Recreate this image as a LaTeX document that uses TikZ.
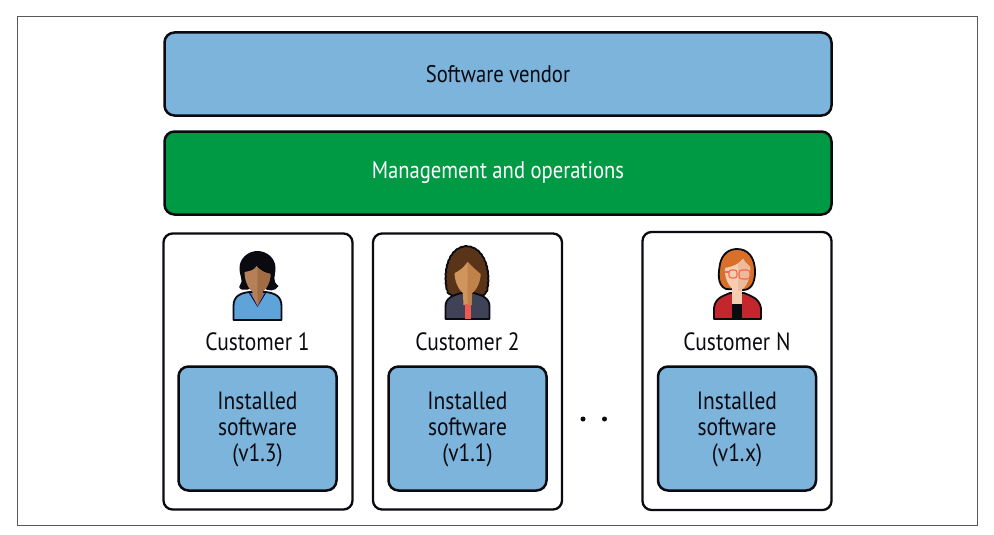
\documentclass[tikz,border=0pt]{standalone}
\usepackage{fontspec}
\usetikzlibrary{decorations.pathmorphing}
\setmainfont{PT Sans}[FakeStretch=0.86]
\definecolor{vblue}{HTML}{7DB4DC}
\definecolor{vgreen}{HTML}{009A44}
\definecolor{ink}{HTML}{0A0A10}
\definecolor{shirtb}{HTML}{5FA4D8}
\definecolor{skinone}{HTML}{B58058}
\definecolor{skinoned}{HTML}{A06C44}
\definecolor{hairtwo}{HTML}{5A3418}
\definecolor{skintwo}{HTML}{D0955C}
\definecolor{skintwod}{HTML}{BF8248}
\definecolor{jacket}{HTML}{3F4358}
\definecolor{tie}{HTML}{EE5A50}
\definecolor{hairthree}{HTML}{D9702A}
\definecolor{skinthree}{HTML}{F6CDB0}
\definecolor{skinthreed}{HTML}{EDBB9A}
\definecolor{coat}{HTML}{C4262E}
\definecolor{glass}{HTML}{EE6A50}
\tikzset{
  x=1pt,y=-1pt,
  bar/.style={draw=ink,line width=2.5pt,rounded corners=10pt,inner sep=0pt},
  card/.style={draw=ink,line width=2.3pt,fill=white,rounded corners=9pt},
  inst/.style={draw=ink,line width=2.5pt,fill=vblue,rounded corners=10pt},
  lab/.style={font=\fontsize{24}{26}\selectfont,text=ink,align=center,inner sep=0pt},
  clab/.style={font=\fontsize{25}{26}\selectfont,text=ink,align=center,inner sep=0pt},
  dotm/.style={circle,fill=ink,minimum size=5pt,inner sep=0pt},
  outl/.style={draw=ink,line width=1.8pt,line join=round}
}
\newcommand{\faceone}{(-13,272) .. controls (-7,271) and (-3,270) .. (-1,266) .. controls (3,271) and (8,273) .. (13,274) .. controls (13,284) and (6,294) .. (0,294) .. controls (-6,294) and (-13,284) .. (-13,272) -- cycle}
\newcommand{\facetwo}{(-13,273) .. controls (-6,270) and (-3,266) .. (0,262) .. controls (5,267) and (9,271) .. (13,274) .. controls (13,284) and (6,295) .. (0,295) .. controls (-6,295) and (-13,284) .. (-13,273) -- cycle}
\newcommand{\facethree}{(-12,268) .. controls (-5,267) and (2,264) .. (6,259) .. controls (9,263) and (11,265) .. (13,267) .. controls (14,280) and (7,291) .. (1,291) .. controls (-6,291) and (-13,280) .. (-12,268) -- cycle}
\begin{document}
\begin{tikzpicture}
\useasboundingbox (0,0) rectangle (994,535);
\fill[white] (0,0) rectangle (994,535);
\node[draw=black!65,line width=.9pt,minimum width=960pt,minimum height=508.5pt,inner sep=0pt] (frame) at (497.5,271.2) {};
\node[bar,fill=vblue,minimum width=667pt,minimum height=83pt] (vendor) at (498,74) {};
\node[lab] at (vendor) {Software vendor};
\node[bar,fill=vgreen,minimum width=667pt,minimum height=83pt] (mgmt) at (498,173) {};
\node[lab,text=white] at (mgmt) {Management and operations};
\node[card,minimum width=189pt,minimum height=276pt] (c1) at (258,371.5) {};
\node[card,minimum width=189pt,minimum height=276pt] (c2) at (467.5,371.5) {};
\node[card,minimum width=189pt,minimum height=278pt] (c3) at (737,371) {};
\node[inst,minimum width=158pt,minimum height=124pt] (s1) at (257.5,428.5) {};
\node[inst,minimum width=158pt,minimum height=124pt] (s2) at (467.5,428.5) {};
\node[inst,minimum width=158pt,minimum height=124pt] (s3) at (737,428.5) {};
\node[clab] (t1) at (257.5,341.5) {Customer 1};
\node[clab] (t2) at (467.5,341.5) {Customer 2};
\node[clab] (t3) at (737,341.5) {Customer N};
\node[clab] (u1) at (257.5,429) {Installed\\software\\(v1.3)};
\node[clab] (u2) at (467.5,429) {Installed\\software\\(v1.1)};
\node[clab] (u3) at (737,429) {Installed\\software\\(v1.x)};
\node[dotm] (d1) at (583,419) {};
\node[dotm] (d2) at (604.5,419) {};
% person 1
\begin{scope}[shift={(257.5,0)}]
\fill[ink] (-17,284) .. controls (-14,281) and (-18,276) .. (-18,268) .. controls (-18,258) and (-9,251) .. (0,251) .. controls (9,251) and (18,258) .. (18,268) .. controls (18,276) and (14,281) .. (21,286) .. controls (18,292) and (10,291) .. (6,288) -- (-6,288) .. controls (-10,291) and (-22,291) .. (-17,284) -- cycle;
\draw[outl,fill=shirtb] (-24,320) -- (-24,306) .. controls (-24,296) and (-17,293) .. (-8,292) -- (8,292) .. controls (17,293) and (24,296) .. (24,306) -- (24,320) -- cycle;
\draw[ink!70!blue,line width=1pt,fill=shirtb!80!black] (-8,293) -- (0,306) -- (8,293);
\fill[skinone] (-5,285) -- (5,285) -- (5,296) -- (0,306) -- (-5,296) -- cycle;
\fill[skinone] \faceone;
\begin{scope}
\clip (0,250) rectangle (30,310);
\fill[skinoned] \faceone;
\fill[skinoned] (-5,285) -- (5,285) -- (5,296) -- (0,306) -- (-5,296) -- cycle;
\end{scope}
\end{scope}
% person 2
\begin{scope}[shift={(467.5,0)}]
\draw[outl,fill=hairtwo,decorate,decoration={bumps,segment length=9pt,amplitude=.9pt}] (-20,290) .. controls (-24,270) and (-18,248) .. (-1,247) .. controls (16,248) and (23,270) .. (19,290) .. controls (16,296) and (10,296) .. (6,294) -- (-6,294) .. controls (-10,296) and (-17,296) .. (-20,290) -- cycle;
\draw[outl,fill=jacket] (-22,319) -- (-22,306) .. controls (-22,298) and (-14,295) .. (-6,293) -- (6,293) .. controls (14,295) and (22,298) .. (22,306) -- (22,319) -- cycle;
\fill[skintwo] (-5,285) -- (5,285) -- (4,305) -- (-4,305) -- cycle;
\fill[tie] (-3,304) rectangle (3,319);
\fill[skintwo] \facetwo;
\begin{scope}
\clip (0,250) rectangle (30,310);
\fill[skintwod] \facetwo;
\fill[skintwod] (-5,285) -- (5,285) -- (4,305) -- (-4,305) -- cycle;
\end{scope}
\end{scope}
% person 3
\begin{scope}[shift={(737,0)}]
\draw[outl,fill=hairthree] (-11,289) .. controls (-21,285) and (-18,270) .. (-17,264) .. controls (-15,254) and (-8,249) .. (0,249) .. controls (10,249) and (18,256) .. (18,272) .. controls (18,283) and (14,290) .. (6,290) -- cycle;
\draw[outl,fill=coat] (-23,319) -- (-23,308) .. controls (-22,298) and (-14,296) .. (-7,293) -- (7,293) .. controls (14,296) and (22,298) .. (24,308) -- (24,319) -- cycle;
\fill[skinthree] (-5,285) -- (5,285) -- (5,304) -- (-5,304) -- cycle;
\fill[ink] (-5,304) rectangle (5,319);
\fill[skinthree] \facethree;
\begin{scope}
\clip (1,250) rectangle (30,310);
\fill[skinthreed] \facethree;
\end{scope}
\draw[glass,line width=1.1pt,rounded corners=2.5pt] (-8,270) rectangle (0,278);
\draw[glass,line width=1.1pt,rounded corners=3pt] (2,270) rectangle (13,279);
\draw[glass,line width=1.1pt] (-12,272) -- (-8,272);
\end{scope}
\end{tikzpicture}
\end{document}
